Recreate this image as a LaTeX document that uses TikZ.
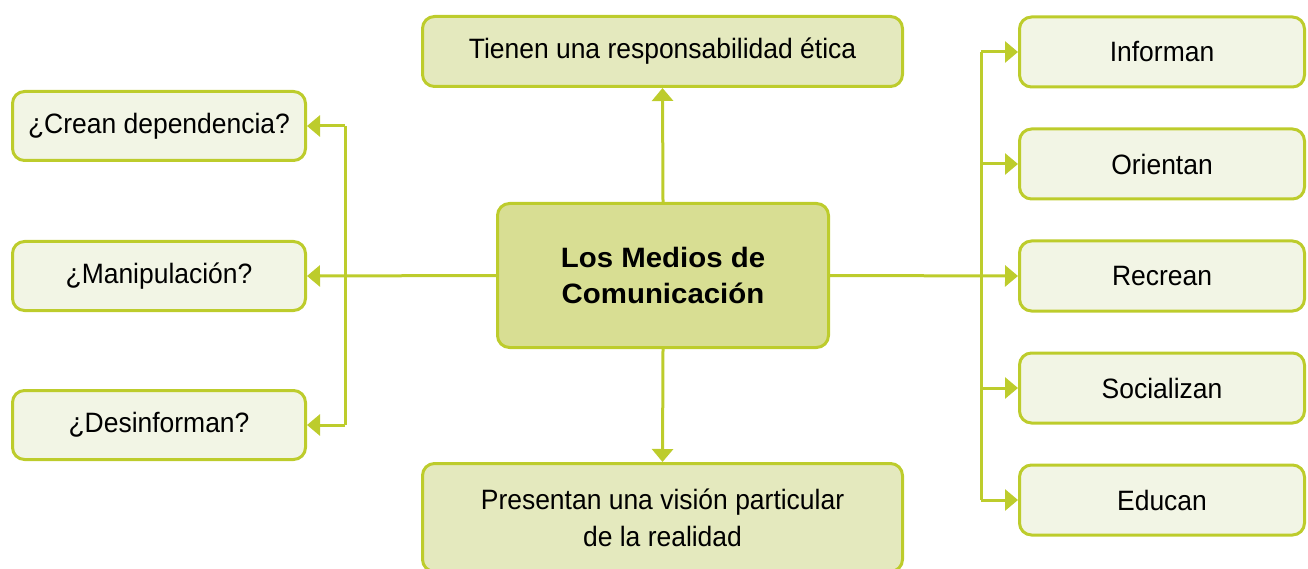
\documentclass[tikz,border=0pt]{standalone}
\usepackage{fontspec}
\setmainfont{Liberation Sans}
\newfontfamily\condfont[FakeStretch=0.945]{Liberation Sans}
\newfontfamily\widefont[FakeStretch=1.05]{Liberation Sans}
\usetikzlibrary{arrows.meta}
\definecolor{lg}{HTML}{BDCC2C}
\definecolor{fillc}{HTML}{D8DE93}
\definecolor{fillm}{HTML}{E4E9BE}
\definecolor{fills}{HTML}{F2F5E5}
\begin{document}
\begin{tikzpicture}[x=1pt,y=-1pt,
  box/.style={draw=lg, line width=3pt, rounded corners=12pt, align=center, inner sep=0pt,
    font=\condfont\fontsize{28}{37}\selectfont},
  sidebox/.style={box, fill=fills, minimum width=293pt, minimum height=69pt},
  rbox/.style={box, fill=fills, minimum width=285pt, minimum height=70pt},
  midbox/.style={box, fill=fillm, minimum width=480pt},
  centerbox/.style={box, fill=fillc, minimum width=331pt, minimum height=144pt,
    font=\widefont\bfseries\fontsize{28}{36}\selectfont},
  conn/.style={draw=lg, line width=3pt},
  arr/.style={conn, -{Triangle[length=13pt,width=21pt]}}]
\useasboundingbox (0,0) rectangle (1308,569);
\node[centerbox] (c) at (663,275.5) {Los Medios de\\Comunicación};
\node[midbox, minimum height=70pt] (t) at (662.5,51.5) {Tienen una responsabilidad ética};
\node[midbox, minimum height=108pt] (b) at (662.5,517.5) {Presentan una visión particular\\de la realidad};
\node[sidebox] (l1) at (159,126) {¿Crean dependencia?};
\node[sidebox] (l2) at (159,276) {¿Manipulación?};
\node[sidebox] (l3) at (159,425) {¿Desinforman?};
\node[rbox] (r1) at (1162,52) {Informan};
\node[rbox] (r2) at (1162,164) {Orientan};
\node[rbox] (r3) at (1162,276) {Recrean};
\node[rbox] (r4) at (1162,388) {Socializan};
\node[rbox] (r5) at (1162,500) {Educan};
\coordinate (jl1) at (345,126);
\coordinate (jl3) at (345,425);
\coordinate (jr1) at (981,52);
\coordinate (jr2) at (981,164);
\coordinate (jr4) at (981,388);
\coordinate (jr5) at (981,500);
\draw[arr] (c.north) -- (t.south);
\draw[arr] (c.south) -- (b.north);
\draw[arr] (c.west) -- (l2.east);
\draw[arr] (c.east) -- (r3.west);
\draw[conn] (jl1) -- (jl3);
\draw[arr] (jl1) -- (l1.east);
\draw[arr] (jl3) -- (l3.east);
\draw[conn] (jr1) -- (jr5);
\draw[arr] (jr1) -- (r1.west);
\draw[arr] (jr2) -- (r2.west);
\draw[arr] (jr4) -- (r4.west);
\draw[arr] (jr5) -- (r5.west);
\end{tikzpicture}
\end{document}
